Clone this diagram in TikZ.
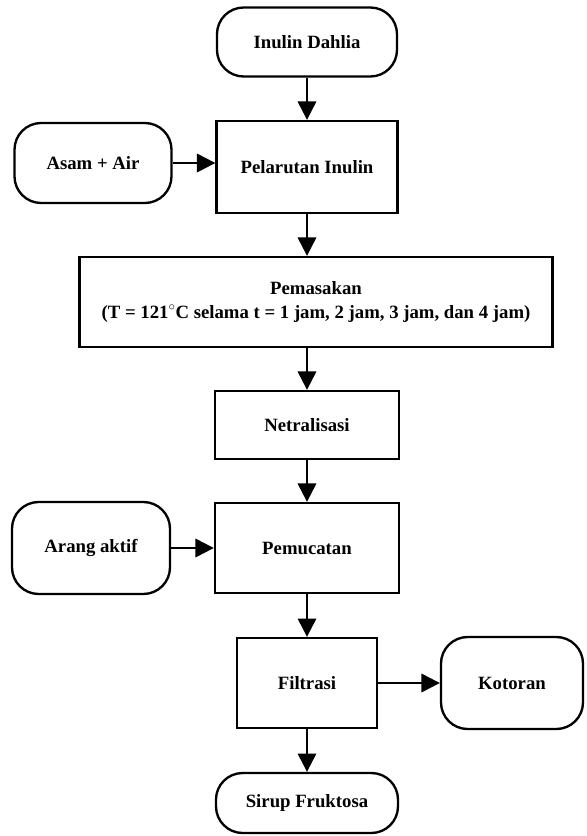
\documentclass[tikz,border=0pt]{standalone}
\usepackage{fontspec}
\setmainfont{Liberation Serif}
\usetikzlibrary{arrows.meta}

\begin{document}
\begin{tikzpicture}[x = 0.03cm, y = -0.03cm, > = {Triangle[length = 5.5mm, width = 5.5mm]},
	proses/.style = {draw, line width = 2pt, rectangle, inner sep = 0pt, align = center,
		font = \fontsize{16}{20}\selectfont\bfseries},
	terminal/.style = {proses, rounded corners = 0.8cm},
	alur/.style = {->, line width = 2pt}]

	\useasboundingbox (0, 0) rectangle (587, 836);

	% Main column

	\node [terminal, minimum width = 5.4cm, minimum height = 2.07cm] (inulin) at (307, 42) {Inulin Dahlia};
	\node [proses, minimum width = 5.43cm, minimum height = 2.76cm] (pelarutan) at (307, 167) {Pelarutan Inulin};
	\node [proses, minimum width = 14.19cm, minimum height = 2.7cm] (pemasakan) at (316, 302)
		{Pemasakan\\(T = 121$^{\circ}$C selama t = 1 jam, 2 jam, 3 jam, dan 4 jam)};
	\node [proses, minimum width = 5.52cm, minimum height = 2.04cm] (netralisasi) at (307, 425) {Netralisasi};
	\node [proses, minimum width = 5.52cm, minimum height = 2.7cm] (pemucatan) at (307, 548) {Pemucatan};
	\node [proses, minimum width = 4.2cm, minimum height = 2.7cm] (filtrasi) at (307, 683) {Filtrasi};
	\node [terminal, minimum width = 5.46cm, minimum height = 1.8cm] (sirup) at (307, 803) {Sirup Fruktosa};

	% Side inputs and outputs

	\node [terminal, minimum width = 4.71cm, minimum height = 2.4cm] (asam) at (93, 163) {Asam + Air};
	\node [terminal, minimum width = 4.74cm, minimum height = 2.76cm] (arang) at (91, 548) {Arang aktif};
	\node [terminal, minimum width = 4.26cm, minimum height = 2.76cm] (kotoran) at (512, 683) {Kotoran};

	% Arrows

	\draw [alur] (inulin) -- (pelarutan);
	\draw [alur] (asam.east) -- (asam.east -| pelarutan.west);
	\draw [alur] (pelarutan) -- (pelarutan.south |- pemasakan.north);
	\draw [alur] (netralisasi.north |- pemasakan.south) -- (netralisasi);
	\draw [alur] (netralisasi) -- (pemucatan);
	\draw [alur] (arang) -- (pemucatan);
	\draw [alur] (pemucatan) -- (filtrasi);
	\draw [alur] (filtrasi) -- (kotoran);
	\draw [alur] (filtrasi) -- (sirup);

\end{tikzpicture}
\end{document}
